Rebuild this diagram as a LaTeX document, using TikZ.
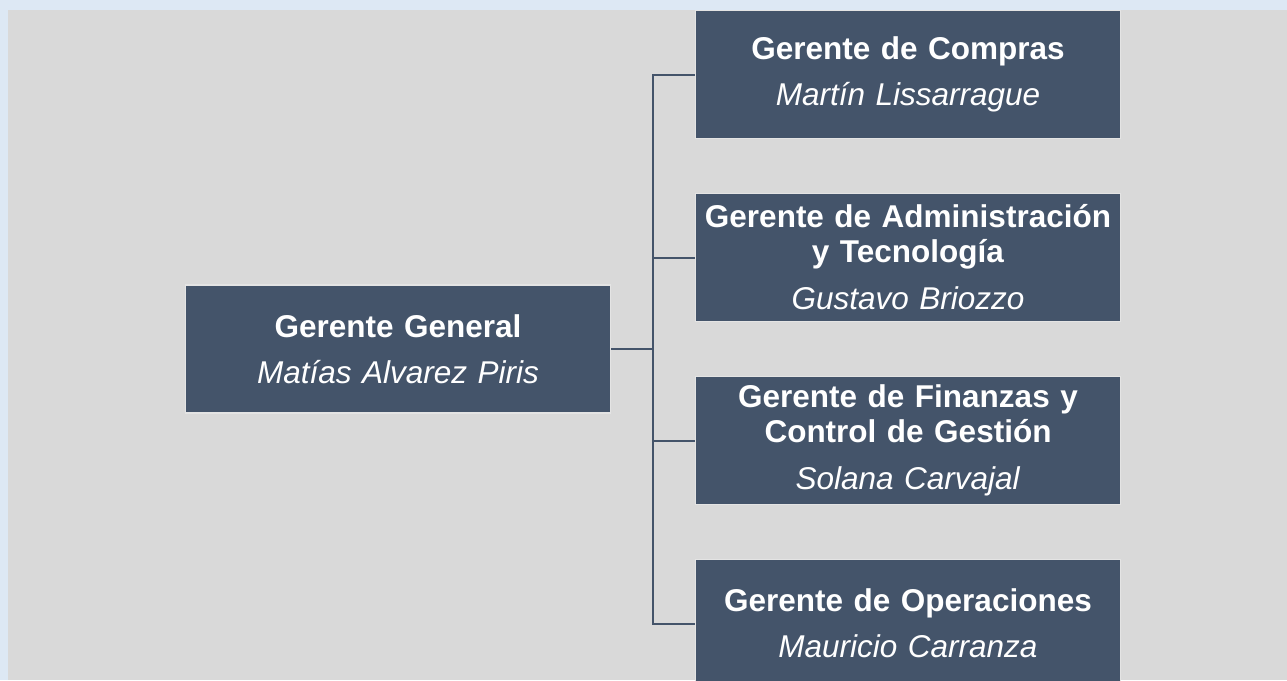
\documentclass[tikz,border=0pt]{standalone}
\usepackage{fontspec}
\setmainfont{Liberation Sans}
\usepackage{tikz}

\definecolor{boxblue}{HTML}{44546A}
\definecolor{paper}{HTML}{D9D9D9}
\definecolor{frame}{HTML}{DDE8F4}
\definecolor{rim}{HTML}{E4E4E4}

\begin{document}
\begin{tikzpicture}[x=1pt, y=-1pt,
            box/.style={draw=rim, line width=1.5pt, fill=boxblue, text=white,
                rectangle, minimum width=425pt, minimum height=128pt,
                text width=415pt, align=center, inner sep=0pt,
                font=\fontsize{31.5}{35}\selectfont},
            link/.style={draw=boxblue, line width=2pt},
            node distance=183pt]
        \fill[frame] (0,0) rectangle (1287,680);
        \clip (0,0) rectangle (1287,680);
        \fill[paper] (8,10) rectangle (1287,680);

        \node[box] (0) at (398,349) {\textbf{Gerente General}\\[11pt]\textit{Matías Alvarez Piris}};
        \node[box] (1) at (908,74.5) {\textbf{Gerente de Compras}\\[11pt]\textit{Martín Lissarrague}};
        \node[box] (2) [below of=1] {\textbf{Gerente de Administración\\y Tecnología}\\[12pt]\textit{Gustavo Briozzo}};
        \node[box] (3) [below of=2] {\textbf{Gerente de Finanzas y\\Control de Gestión}\\[12pt]\textit{Solana Carvajal}};
        \node[box] (4) [below of=3] {\textbf{Gerente de Operaciones}\\[11pt]\textit{Mauricio Carranza}};

        \coordinate (bus) at (653,349);
        \draw[link] (0.east) -- (bus);
        \foreach \n in {1,...,4}
            \draw[link] (bus) |- (\n.west);
    \end{tikzpicture}
\end{document}
